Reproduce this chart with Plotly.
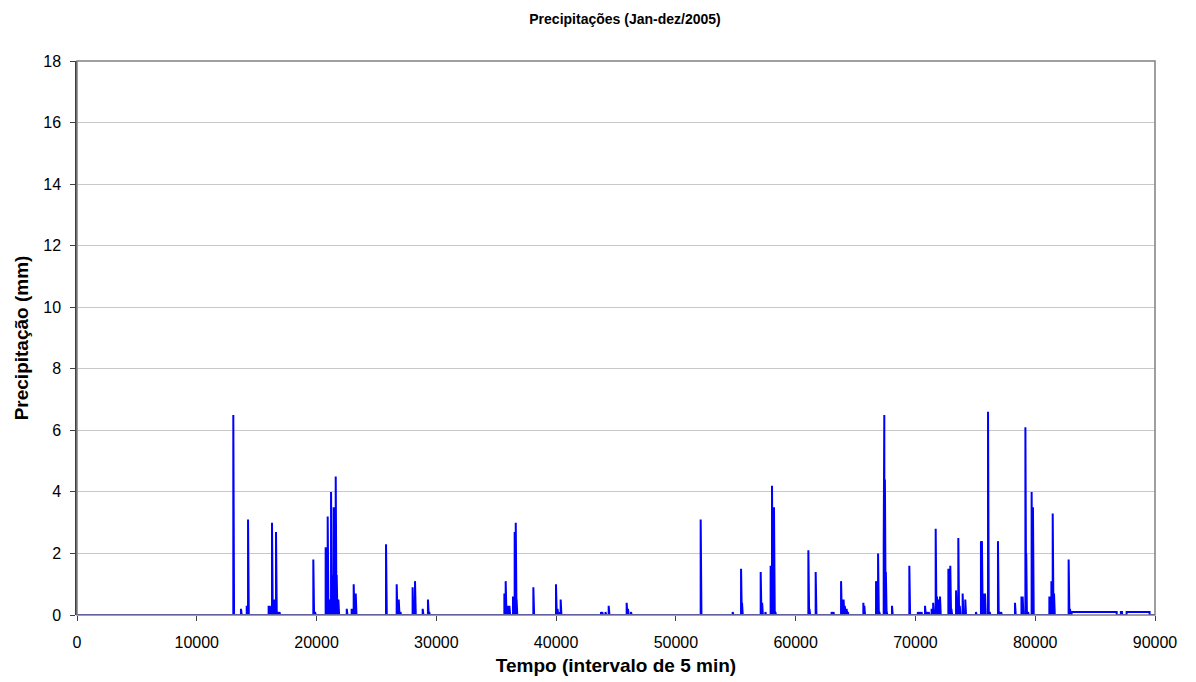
import numpy as np
import plotly.graph_objects as go

# ---- data (5-min interval index, precipitation mm) ----
spike_x = [13050, 13690, 14170, 14280, 16000, 16100, 16280, 16450, 16615, 16750, 16900,
           19730, 19870, 20760, 20850, 20930, 21050, 21210, 21300, 21430, 21520, 21600,
           21680, 21820, 22520, 22930, 23100, 23270, 25800, 26690, 26860, 27000, 28020,
           28220, 28860, 29300, 29400, 35680, 35790, 35950, 36100, 36400, 36540, 36630,
           36700, 38100, 39990, 40120, 40250, 40380, 43750, 43850, 44120, 44390, 45890,
           46000, 46250, 52070, 54740, 55440, 55520, 57080, 57200, 57470, 57910, 58025,
           58190, 58300, 61060, 61150, 61670, 63000, 63150, 63790, 63900, 64000, 64100,
           64250, 64350, 65650, 65730, 66710, 66880, 66980, 67350, 67400, 67450, 67530,
           67600, 68040, 69490, 70200, 70350, 70500, 70800, 70950, 71100, 71350, 71480,
           71690, 71800, 71950, 72050, 72750, 72910, 73000, 73390, 73580, 73700, 73940,
           74160, 75050, 75470, 75550, 75680, 75810, 76060, 76200, 76890, 77000, 77150,
           78310, 78850, 78950, 79180, 79250, 79400, 79700, 79810, 81180, 81350, 81460,
           81570, 82790, 82900]
spike_mm = [6.5, 0.2, 0.3, 3.1, 0.3, 0.3, 3.0, 0.5, 2.7, 0.1, 0.1,
            1.8, 0.1, 2.2, 0.5, 3.2, 0.5, 4.0, 1.3, 3.5, 0.5, 4.5,
            1.3, 0.5, 0.2, 0.2, 1.0, 0.7, 2.3, 1.0, 0.5, 0.1, 0.9,
            1.1, 0.2, 0.5, 0.1, 0.7, 1.1, 0.3, 0.3, 0.6, 2.7, 3.0,
            0.5, 0.9, 1.0, 0.2, 0.1, 0.5, 0.1, 0.1, 0.1, 0.3, 0.4,
            0.2, 0.1, 3.1, 0.1, 1.5, 0.4, 1.4, 0.4, 0.1, 1.6, 4.2,
            3.5, 0.1, 2.1, 0.2, 1.4, 0.1, 0.1, 1.1, 0.5, 0.5, 0.3,
            0.2, 0.1, 0.4, 0.3, 1.1, 2.0, 0.1, 2.2, 6.5, 4.4, 1.4,
            0.1, 0.3, 1.6, 0.1, 0.1, 0.1, 0.3, 0.1, 0.1, 0.2, 0.4,
            2.8, 0.6, 0.5, 0.6, 1.5, 1.6, 0.2, 0.8, 2.5, 0.3, 0.7,
            0.5, 0.1, 2.4, 2.4, 0.7, 0.7, 6.6, 0.1, 2.4, 0.1, 0.1,
            0.4, 0.6, 0.6, 6.1, 2.0, 0.1, 4.0, 3.5, 0.6, 1.1, 3.3,
            0.7, 1.8, 0.2]
# long drizzle stretches at the end of the year
band_start = [83040, 87150, 87630]
band_end = [86800, 87250, 89550]
band_mm = [0.1, 0.1, 0.1]
n_intervals = 90000

x_ticks = [0, 10000, 20000, 30000, 40000, 50000, 60000, 70000, 80000, 90000]
y_ticks = [0, 2, 4, 6, 8, 10, 12, 14, 16, 18]

# ---- build the series ----
precip = np.zeros(n_intervals + 1)
for s, e, v in zip(band_start, band_end, band_mm):
    precip[s:e + 1] = v
for xi, v in zip(spike_x, spike_mm):
    precip[xi] = v
tempo = np.arange(n_intervals + 1)

font_family = "Liberation Sans, Arial, sans-serif"

# figure sits at an 8 px page margin inside the 1196x682 window
W, H = 1188, 674

fig = go.Figure()
fig.add_trace(go.Scatter(
    x=tempo, y=precip, mode="lines",
    line=dict(color="#0000FF", width=2, simplify=True),
    hoverinfo="x+y", showlegend=False,
))

fig.update_layout(
    width=W, height=H,
    margin=dict(l=69, r=41, t=53, b=67, autoexpand=False),
    paper_bgcolor="white", plot_bgcolor="white",
    font=dict(family=font_family, color="black", size=16),
    title=dict(text="<b>Precipitações (Jan-dez/2005)</b>",
               x=617 / W, xanchor="center", y=1 - 11 / H, yanchor="middle",
               font=dict(size=14, family=font_family, color="black")),
    shapes=[dict(type="rect", xref="paper", yref="paper", x0=0, y0=0, x1=1, y1=1,
                 line=dict(color="#808080", width=1.5), layer="above")],
)

fig.update_xaxes(
    range=[0, 90000], tickvals=x_ticks, tickformat="d",
    ticks="outside", ticklen=5, tickcolor="#404040", tickwidth=1,
    ticklabelstandoff=8,
    showline=False, showgrid=False, zeroline=False,
    tickfont=dict(size=16, family=font_family, color="black"),
    title=dict(text="<b>Tempo (intervalo de 5 min)</b>",
               font=dict(size=19, family=font_family, color="black"), standoff=8),
)
fig.update_yaxes(
    range=[0, 18], tickvals=y_ticks,
    ticks="outside", ticklen=5, tickcolor="#404040", tickwidth=1,
    ticklabelstandoff=6,
    showline=True, linecolor="#404040", linewidth=1.5,
    showgrid=True, gridcolor="#C8C8C8", gridwidth=1, zeroline=False,
    tickfont=dict(size=16, family=font_family, color="black"),
    title=dict(text="<b>Precipitação (mm)</b>",
               font=dict(size=19, family=font_family, color="black"), standoff=10),
)

fig.write_html("out.html")
